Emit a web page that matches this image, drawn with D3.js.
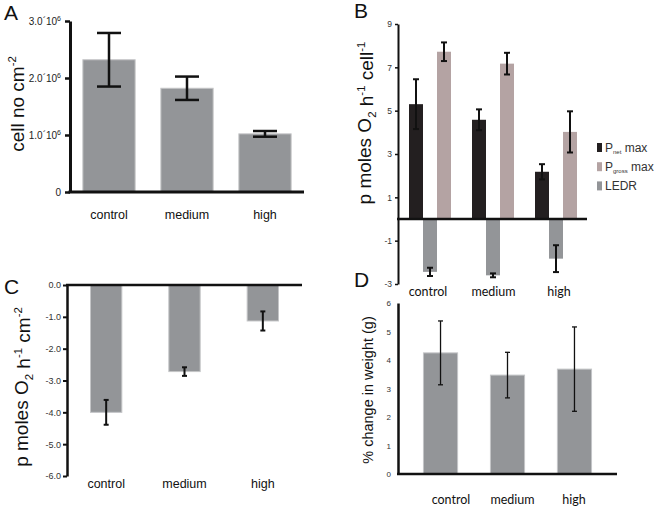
<!DOCTYPE html>
<html><head><meta charset="utf-8">
<script src="https://cdn.jsdelivr.net/npm/d3@7"></script>
<style>body{margin:0;background:#fff} svg{display:block}</style>
</head><body>
<svg id="c" width="662" height="508"></svg>
<script>
// ---------- data ----------
const categories = ["control", "medium", "high"];
// Panel A: cell density
const cellCount = [2.32e6, 1.82e6, 1.02e6];
const cellCountErr = [0.47e6, 0.205e6, 0.05e6];
const cellTicks = [0, 1e6, 2e6, 3e6];
// Panel B: per-cell rates (group order: Pnet, LEDR, Pgross)
const seriesB = ["Pnet", "LEDR", "Pgross"];
const pNet = [5.3, 4.58, 2.18];
const pNetErr = [1.15, 0.48, 0.35];
const pGross = [7.72, 7.17, 4.02];
const pGrossErr = [0.43, 0.5, 0.95];
const ledr = [-2.44, -2.6, -1.83];
const ledrErr = [0.19, 0.09, 0.62];
const ticksB = [-3, -1, 1, 3, 5, 7, 9];
// Panel C: LEDR per area
const ledrArea = [-4.0, -2.72, -1.13];
const ledrAreaErr = [0.39, 0.135, 0.3];
const ticksC = [0, -1, -2, -3, -4, -5, -6];
// Panel D: weight change
const weightChange = [4.25, 3.47, 3.68];
const weightErr = [1.12, 0.8, 1.48];
const ticksD = [0, 1, 2, 3, 4, 5, 6];

// ---------- styles ----------
const GRAY = "#939598", NET = "#231f20", GROSS = "#b4a3a3";
const SANS = "'Liberation Sans', Arial, sans-serif";
const CAL = "Lato, 'Open Sans', sans-serif";
const svg = d3.select("#c");

function yAxis(scale, x, ticks, fmt, o) {
  const ax = svg.append("g").attr("transform", `translate(${x},0)`)
    .call(d3.axisLeft(scale).tickValues(ticks).tickSize(o.tick).tickSizeOuter(0)
      .tickPadding(o.pad).tickFormat(fmt));
  ax.select(".domain").attr("stroke", "#111").attr("stroke-width", o.w);
  ax.selectAll(".tick line").attr("stroke", "#111").attr("stroke-width", o.tw || 1.5);
  ax.selectAll(".tick text").attr("font-family", SANS).attr("font-size", o.fs).attr("fill", o.col || "#333");
  return ax;
}
function hLine(x0, x1, y, w) {
  svg.append("line").attr("x1", x0).attr("x2", x1).attr("y1", y).attr("y2", y)
    .attr("stroke", "#111").attr("stroke-width", w);
}
function errBars(cx, yv, cap, w) {
  // cx: array of centers, yv: array of [yTop,yBottom]
  cx.forEach((c, i) => {
    const [a, b] = yv[i];
    const g = svg.append("g").attr("stroke", "#111").attr("stroke-width", w);
    g.append("line").attr("x1", c).attr("x2", c).attr("y1", a).attr("y2", b);
    g.append("line").attr("x1", c - cap / 2).attr("x2", c + cap / 2).attr("y1", a).attr("y2", a);
    g.append("line").attr("x1", c - cap / 2).attr("x2", c + cap / 2).attr("y1", b).attr("y2", b);
  });
}
function catLabels(xf, y, fam, fs) {
  svg.append("g").selectAll("text").data(categories).join("text")
    .attr("x", d => xf(d)).attr("y", y).attr("text-anchor", "middle")
    .attr("font-family", fam).attr("font-size", fs).attr("fill", "#111").text(d => d);
}
function panelLetter(t, x, y) {
  svg.append("text").attr("x", x).attr("y", y).attr("font-family", SANS)
    .attr("font-size", 21).attr("fill", "#111").text(t);
}
function yTitle(parts, cx, cy, fs, fam) {
  const t = svg.append("text").attr("transform", `translate(${cx},${cy}) rotate(-90)`)
    .attr("text-anchor", "middle").attr("font-family", fam || SANS).attr("font-size", fs).attr("fill", "#111");
  parts.forEach(p => {
    const s = t.append("tspan").text(p.t);
    if (p.sup) s.attr("font-size", fs * 0.6).attr("dy", -fs * 0.4);
    if (p.sub) s.attr("font-size", fs * 0.6).attr("dy", fs * 0.25);
    if (p.back) s.attr("dy", p.back);
  });
  return t;
}

// ---------- Panel A ----------
const xA = d3.scaleBand(categories, [70, 304]).paddingInner(0.33).paddingOuter(0.165);
const yA = d3.scaleLinear([0, 3e6], [192, 21]);
svg.append("g").selectAll("rect").data(categories).join("rect")
  .attr("x", d => xA(d)).attr("width", xA.bandwidth())
  .attr("y", (d, i) => yA(cellCount[i])).attr("height", (d, i) => yA(0) - yA(cellCount[i]))
  .attr("fill", GRAY).attr("stroke", "#c4c5c7").attr("stroke-width", 1);
errBars(categories.map(d => xA(d) + xA.bandwidth() / 2),
  cellCount.map((v, i) => [yA(v + cellCountErr[i]), yA(v - cellCountErr[i])]), 24, 2.5);
const axA = yAxis(yA, 70, cellTicks, () => "", { tick: 5, pad: 4, w: 3, tw: 2.5, fs: 10 });
hLine(68.5, 304, yA(0), 3);
svg.append("g").selectAll("text").data(cellTicks).join("text")
  .attr("x", 61).attr("y", d => yA(d) + 3.5).attr("text-anchor", "end")
  .attr("font-family", SANS).attr("font-size", 10).attr("fill", "#222")
  .each(function (d) {
    const t = d3.select(this);
    if (d === 0) { t.text("0"); return; }
    t.append("tspan").text((d / 1e6).toFixed(1) + "\u00b410");
    t.append("tspan").attr("font-size", 7).attr("dy", -4).text("6");
  });
catLabels(d => xA(d) + xA.bandwidth() / 2, 219, SANS, 12.5);
panelLetter("A", 4, 20);
yTitle([{ t: "cell no cm" }, { t: "-2", sup: true }], 24, 104, 19);

// ---------- Panel B ----------
const xB0 = d3.scaleBand(categories, [398.5, 587.5]).paddingInner(1 / 3).paddingOuter(1 / 6);
const xB1 = d3.scaleBand(seriesB, [0, xB0.bandwidth()]);
const yB = d3.scaleLinear([-3, 9], [284, 24]);
const bSeries = [
  { key: "Pnet", vals: pNet, err: pNetErr, color: NET },
  { key: "LEDR", vals: ledr, err: ledrErr, color: GRAY },
  { key: "Pgross", vals: pGross, err: pGrossErr, color: GROSS }
];
bSeries.forEach(s => {
  svg.append("g").selectAll("rect").data(categories).join("rect")
    .attr("x", d => xB0(d) + xB1(s.key)).attr("width", xB1.bandwidth())
    .attr("y", (d, i) => yB(Math.max(0, s.vals[i])))
    .attr("height", (d, i) => Math.abs(yB(s.vals[i]) - yB(0)))
    .attr("fill", s.color);
  errBars(categories.map(d => xB0(d) + xB1(s.key) + xB1.bandwidth() / 2),
    s.vals.map((v, i) => [yB(v + s.err[i]), yB(v - s.err[i])]), 6, 2);
});
yAxis(yB, 398, ticksB, d => String(d), { tick: 3, pad: 3, w: 2, tw: 1.5, fs: 8.5 });
hLine(397, 587, yB(0), 2.5);
const lblB = d3.scalePoint(categories, [428, 559]);
catLabels(d => lblB(d), 296, CAL, 12.5);
panelLetter("B", 354, 18);
yTitle([{ t: "p moles O" }, { t: "2", sub: true }, { t: " h", back: -11.4 * 0.25 },
  { t: "-1", sup: true }, { t: " cell", back: 19 * 0.4 }, { t: "-1", sup: true }], 371, 123, 19);
// legend
const legend = [
  { main: "P", sub: "net", rest: " max", color: NET },
  { main: "P", sub: "gross", rest: " max", color: GROSS },
  { main: "LEDR", sub: "", rest: "", color: GRAY }
];
const lg = svg.append("g");
legend.forEach((l, i) => {
  const y = 152 + i * 19.2;
  lg.append("rect").attr("x", 597).attr("y", y - 9).attr("width", 5).attr("height", 9).attr("fill", l.color);
  const t = lg.append("text").attr("x", 605).attr("y", y).attr("font-family", SANS)
    .attr("font-size", 12).attr("fill", "#333");
  t.append("tspan").text(l.main);
  if (l.sub) {
    t.append("tspan").attr("font-size", 6).attr("dy", 1.5).text(l.sub);
    t.append("tspan").attr("dy", -1.5).text(l.rest);
  }
});

// ---------- Panel C ----------
const xC = d3.scaleBand(categories, [67, 302]).paddingInner(0.6).paddingOuter(0.3);
const yC = d3.scaleLinear([-6, 0], [476, 285]);
svg.append("g").selectAll("rect").data(categories).join("rect")
  .attr("x", d => xC(d)).attr("width", xC.bandwidth())
  .attr("y", yC(0)).attr("height", (d, i) => yC(ledrArea[i]) - yC(0))
  .attr("fill", GRAY).attr("stroke", "#c4c5c7").attr("stroke-width", 1);
errBars(categories.map(d => xC(d) + xC.bandwidth() / 2),
  ledrArea.map((v, i) => [yC(v + ledrAreaErr[i]), yC(v - ledrAreaErr[i])]), 5, 2);
yAxis(yC, 67, ticksC, d => d.toFixed(1), { tick: 4, pad: 2, w: 2.5, tw: 2, fs: 9 });
hLine(66, 302, yC(0), 2.5);
catLabels(d => xC(d) + xC.bandwidth() / 2, 488, SANS, 12.5);
panelLetter("C", 4, 294);
yTitle([{ t: "p moles O" }, { t: "2", sub: true }, { t: " h", back: -11.4 * 0.25 },
  { t: "-1", sup: true }, { t: " cm", back: 19 * 0.4 }, { t: "-2", sup: true }], 28, 387, 19);

// ---------- Panel D ----------
const xD = d3.scaleBand(categories, [398, 617]).paddingInner(0.49).paddingOuter(0.38);
const yD = d3.scaleLinear([0, 6], [474, 303]);
svg.append("g").selectAll("rect").data(categories).join("rect")
  .attr("x", d => xD(d)).attr("width", xD.bandwidth())
  .attr("y", (d, i) => yD(weightChange[i])).attr("height", (d, i) => yD(0) - yD(weightChange[i]))
  .attr("fill", GRAY).attr("stroke", "#c4c5c7").attr("stroke-width", 1);
errBars(categories.map(d => xD(d) + xD.bandwidth() / 2),
  weightChange.map((v, i) => [yD(v + weightErr[i]), yD(v - weightErr[i])]), 5, 1.3);
yAxis(yD, 398, ticksD, d => String(d), { tick: 0, pad: 7, w: 2.5, tw: 0, fs: 8 });
hLine(397, 617, yD(0), 2.5);
const lblD = d3.scalePoint(categories, [451, 574]);
catLabels(d => lblD(d), 504, CAL, 12.5);
panelLetter("D", 354, 287);
yTitle([{ t: "% change in weight (g)" }], 373, 390, 14.5);
</script>
</body></html>
